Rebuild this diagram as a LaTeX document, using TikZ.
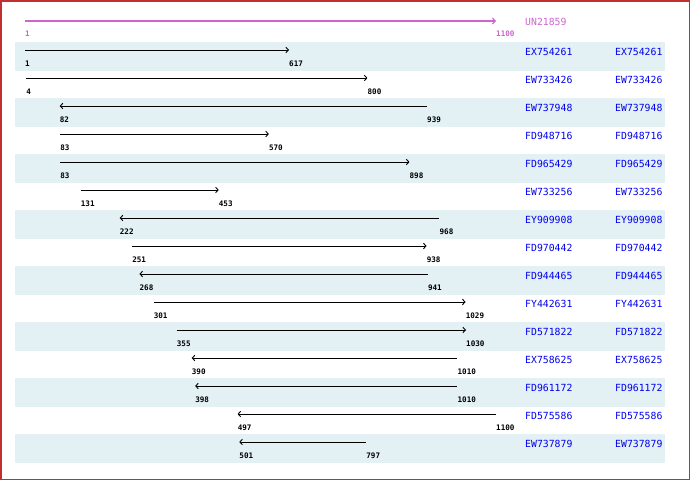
\documentclass[tikz,border=0pt]{standalone}
\usepackage{fontspec}
\setmonofont{DejaVu Sans Mono}
\usetikzlibrary{arrows.meta}
\definecolor{rowshade}{HTML}{E3F0F4}
\definecolor{framered}{HTML}{C03030}
\definecolor{pinkq}{HTML}{CC66CC}
\definecolor{idblue}{HTML}{0000EE}
\tikzset{
  numlbl/.style={anchor=west,inner sep=0pt,font=\ttfamily\bfseries\fontsize{7.6}{8}\selectfont},
  idlbl/.style={anchor=west,inner sep=0pt,text=idblue,font=\ttfamily\fontsize{9.8}{10}\selectfont},
  hit/.style={draw=black,line width=1pt},
  tip/.tip={Straight Barb[length=2.5pt,width=5.5pt,line width=0.9pt]},
  dirr/.style={-tip},
  dirl/.style={tip-},
}
\begin{document}
\begin{tikzpicture}[x=1pt,y=-1pt]
\useasboundingbox (0,0) rectangle (690,480);
% frame
\draw[framered,line width=1.5pt] (0.75,0.75) rectangle (689.25,479.25);
% query
\coordinate (qs) at (25,21);
\coordinate (qe) at (496,21);
\draw[pinkq,line width=2pt,-{Straight Barb[length=3pt,width=6pt,line width=1pt]}] (qs) -- (qe);
\node[numlbl,text=pinkq] (qa) at (25,34) {1};
\node[numlbl,text=pinkq] (qb) at (496,34) {1100};
\node[idlbl,text=pinkq] (qn) at (525,22) {UN21859};
% hits
\foreach \i/\a/\b/\d/\n in {
  1/1/617/r/EX754261,
  2/4/800/r/EW733426,
  3/82/939/l/EW737948,
  4/83/570/r/FD948716,
  5/83/898/r/FD965429,
  6/131/453/r/EW733256,
  7/222/968/l/EY909908,
  8/251/938/r/FD970442,
  9/268/941/l/FD944465,
  10/301/1029/r/FY442631,
  11/355/1030/r/FD571822,
  12/390/1010/l/EX758625,
  13/398/1010/l/FD961172,
  14/497/1100/l/FD575586,
  15/501/797/l/EW737879}{
  \pgfmathsetmacro\yy{50+28*(\i-1)}
  \pgfmathsetmacro\xa{25+(\a-1)*0.428571}
  \pgfmathsetmacro\xb{25+(\b-1)*0.428571}
  \pgfmathtruncatemacro\odd{mod(\i,2)}
  \ifnum\odd=1
    \fill[rowshade] (15,\yy-8) rectangle (665,\yy+20.7);
  \fi
  \coordinate (s\i) at (\xa,\yy);
  \coordinate (e\i) at (\xb,\yy);
  \draw[hit,dir\d] (s\i) -- (e\i);
  \node[numlbl] (la\i) at (\xa,\yy+14) {\a};
  \node[numlbl] (lb\i) at (\xb,\yy+14) {\b};
  \node[idlbl] (n\i) at (525,\yy+2) {\n};
  \node[idlbl] (m\i) at (615,\yy+2) {\n};
}
\end{tikzpicture}
\end{document}
